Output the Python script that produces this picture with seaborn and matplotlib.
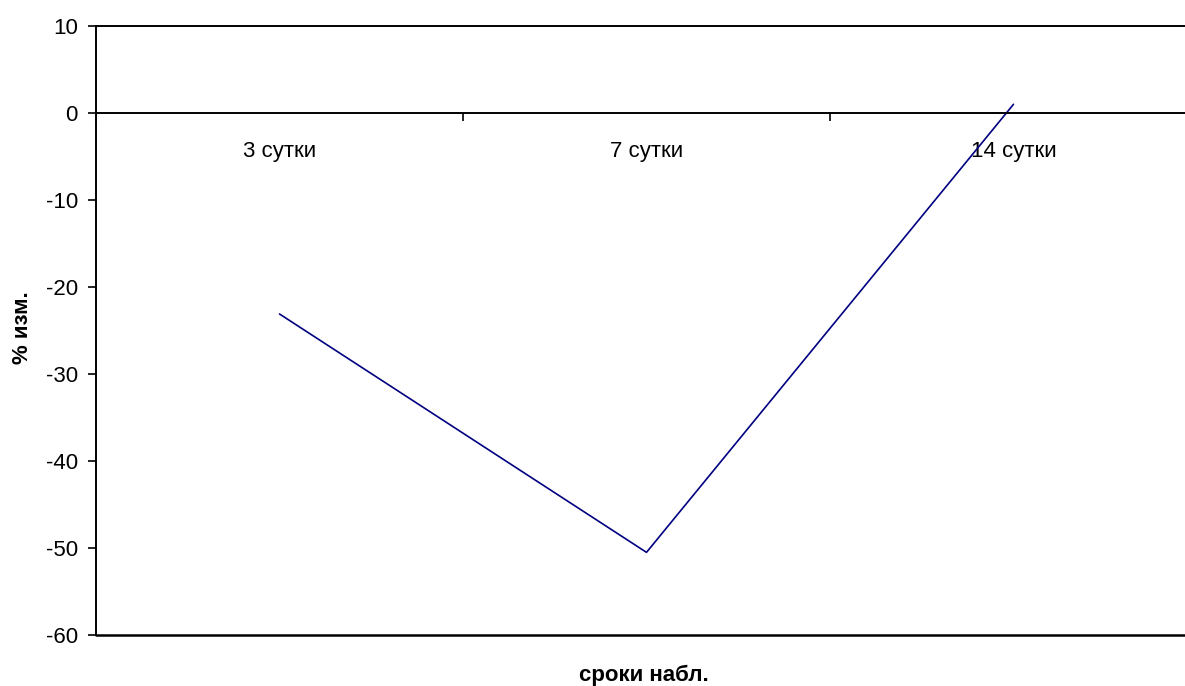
import matplotlib
matplotlib.use("Agg")
import matplotlib.pyplot as plt
import seaborn as sns
import pandas as pd
from matplotlib.ticker import FixedLocator, MultipleLocator

# data
days = ["3 сутки", "7 сутки", "14 сутки"]
change_pct = [-23.1, -50.5, 1.0]
y_ticks = list(range(-60, 11, 10))

sns.set_theme(style="white")
plt.rcParams['font.family'] = ['Liberation Sans', 'DejaVu Sans']

df = pd.DataFrame({"day": days, "pct": change_pct})

fig = plt.figure(figsize=(11.85, 6.86), dpi=100)
# axes run past the right edge of the picture, like the original
ax = fig.add_axes([96 / 1185, 1 - 635 / 686, 1101 / 1185, 609 / 686])

sns.lineplot(data=df, x="day", y="pct", ax=ax, color="#000080", linewidth=1.2,
             sort=False)

ax.set_xlim(-0.5, len(days) - 0.5)
ax.set_ylim(min(y_ticks), max(y_ticks))
ax.yaxis.set_major_locator(FixedLocator(y_ticks))
ax.set_yticklabels([str(t) for t in y_ticks])

#--> category axis sits on the zero line
for s in ["left", "bottom", "top"]:
    ax.spines[s].set_color("black")
    ax.spines[s].set_linewidth(1.4)
ax.spines["right"].set_visible(False)
ax.spines["bottom"].set_position(("data", 0))
ax.axhline(min(y_ticks), color="black", linewidth=1.8, clip_on=False)

ax.xaxis.set_minor_locator(MultipleLocator(1, offset=0.5))
ax.tick_params(axis="x", which="major", length=0, pad=20, labelsize=16, colors="black")
ax.tick_params(axis="x", which="minor", direction="out", length=6, width=1.2,
               color="black", bottom=True)
ax.tick_params(axis="y", direction="out", length=6, width=1.2, pad=7, labelsize=16,
               colors="black", left=True)

ax.set_xlabel("сроки набл.", fontsize=16, fontweight="bold", color="black")
ax.set_ylabel("% изм.", fontsize=16, fontweight="bold", color="black")
ax.xaxis.set_label_coords((644 - 96) / 1101, (635 - 665) / 609)
ax.yaxis.set_label_coords((33 - 96) / 1101, (635 - 328) / 609)

fig.savefig("out.png", dpi=100)
